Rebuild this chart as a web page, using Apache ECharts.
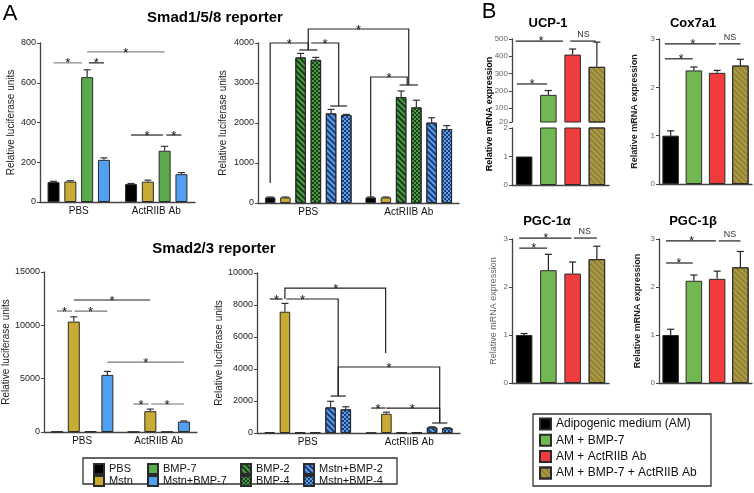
<!DOCTYPE html>
<html><head><meta charset="utf-8">
<script src="https://cdn.jsdelivr.net/npm/echarts@6.0.0/dist/echarts.min.js"></script>
<style>html,body{margin:0;padding:0;background:#fff}#c{width:754px;height:493px}</style>
</head><body><div id="c"></div>
<script>
// ---------------- DATA ----------------
const categoriesA = ['PBS', 'ActRIIB Ab'];
const groupsBasic = ['PBS', 'Mstn', 'BMP-7', 'Mstn+BMP-7'];
const groupsFull = ['PBS', 'Mstn', 'BMP-2', 'BMP-4', 'Mstn+BMP-2', 'Mstn+BMP-4'];

// Smad1/5/8 reporter (rows follow group order, columns = [PBS, ActRIIB Ab])
const smad158BasicMean = [[100, 90], [103, 102], [628, 258], [212, 140]];
const smad158BasicTop  = [[104, 93], [107, 110], [665, 280], [222, 148]];
const smad158FullMean  = [[140, 140], [140, 140], [3640, 2650], [3580, 2390], [2240, 2010], [2200, 1850]];
const smad158FullTop   = [[150, 150], [150, 150], [3740, 2800], [3640, 2570], [2340, 2130], [2215, 1935]];
// Smad2/3 reporter
const smad23BasicMean = [[40, 20], [10350, 1950], [60, 30], [5350, 980]];
const smad23BasicTop  = [[40, 20], [10800, 2150], [60, 30], [5680, 1040]];
const smad23FullMean  = [[50, 20], [7580, 1200], [40, 30], [50, 30], [1600, 350], [1480, 300]];
const smad23FullTop   = [[50, 20], [8100, 1300], [40, 30], [50, 30], [1980, 390], [1640, 330]];

// Panel B
const treatmentsB = ['Adipogenic medium (AM)', 'AM + BMP-7', 'AM + ActRIIB Ab', 'AM + BMP-7 + ActRIIB Ab'];
const ucp1Mean   = [1, 177, 410, 339];
const ucp1Top    = [1, 202, 442, 482];
const cox7a1Mean = [1.0, 2.35, 2.3, 2.45];
const cox7a1Top  = [1.1, 2.42, 2.35, 2.58];
const pgc1aMean  = [1.0, 2.35, 2.28, 2.58];
const pgc1aTop   = [1.03, 2.68, 2.52, 2.85];
const pgc1bMean  = [1.0, 2.13, 2.17, 2.41];
const pgc1bTop   = [1.12, 2.25, 2.33, 2.74];

// Significance annotations: points are [category, bar slot, value]
const sig158Basic = [
  {paths: [[[0, 0, 700], [0, 1.7, 700]]], label: [0, 0.85, 700], color: '#888'},
  {paths: [[[0, 2.1, 700], [0, 3, 700]]], label: [0, 2.55, 700], color: '#222'},
  {paths: [[[0, 2, 755], [1, 2, 755]]], label: [0.5, 2, 755], color: '#888'},
  {paths: [[[1, 0, 337], [1, 1.9, 337]]], label: [1, 0.95, 337], color: '#222'},
  {paths: [[[1, 2.1, 337], [1, 3, 337]]], label: [1, 2.55, 337], color: '#222'}
];
const sig158Full = [
  {paths: [[[0, 0, 500], [0, 0, 4000], [0, 2.5, 4000], [0, 2.5, 3825]], [[0, 1.9, 3825], [0, 3.1, 3825]]], label: [0, 1.25, 4000]},
  {paths: [[[0, 2.7, 4000], [0, 4.5, 4000], [0, 4.5, 2425]], [[0, 3.95, 2425], [0, 5.05, 2425]]], label: [0, 3.6, 4000]},
  {paths: [[[0, 2.5, 3825], [0, 2.5, 4350], [1, 2.5, 4350], [1, 2.5, 2950]], [[1, 1.9, 2950], [1, 3.1, 2950]]], label: [0.5, 2.5, 4350]},
  {paths: [[[1, 0, 150], [1, 0, 3150], [1, 2.4, 3150], [1, 2.4, 2950]]], label: [1, 1.2, 3150]}
];
const sig23Basic = [
  {paths: [[[0, 0, 11340], [0, 0.9, 11340]]], label: [0, 0.45, 11340], color: '#777'},
  {paths: [[[0, 1.05, 11340], [0, 3, 11340]]], label: [0, 2.0, 11340], color: '#777'},
  {paths: [[[0, 1, 12375], [1, 1, 12375]]], label: [0.5, 1, 12375], color: '#222'},
  {paths: [[[0, 3, 6560], [1, 3, 6560]]], label: [0.5, 3, 6560], color: '#777'},
  {paths: [[[1, 0, 2625], [1, 0.9, 2625]]], label: [1, 0.45, 2625], color: '#777'},
  {paths: [[[1, 1.05, 2625], [1, 3, 2625]]], label: [1, 2.0, 2625], color: '#777'}
];
const sig23Full = [
  {paths: [[[0, 0, 8375], [0, 0.85, 8375]]], label: [0, 0.45, 8375]},
  {paths: [[[0, 1, 8375], [0, 1, 9060], [1, 0.95, 9060], [1, 0.95, 5000]]], label: [0.5, 1, 9060]},
  {paths: [[[0, 1.1, 8375], [0, 4.5, 8375], [0, 4.5, 2310]], [[0, 4, 2310], [0, 5, 2310]]], label: [0, 2.15, 8375]},
  {paths: [[[0, 4.5, 2310], [0, 4.5, 4125], [1, 4.5, 4125], [1, 4.5, 625]], [[1, 4, 625], [1, 5, 625]]], label: [0.5, 4.5, 4125]},
  {paths: [[[1, 0, 1560], [1, 0.95, 1560]]], label: [1, 0.45, 1560]},
  {paths: [[[1, 1, 1560], [1, 4.5, 1560], [1, 4.5, 625]]], label: [1, 2.7, 1560]}
];
const sigUcp1 = [
  {paths: [[[-0.35, 0, 488], [1.6, 0, 488]]], label: [0.7, 0, 488]},
  {paths: [[[1.9, 0, 488], [2.95, 0, 488]]], label: [2.45, 0, 488], text: 'NS'},
  {paths: [[[-0.3, 0, 240], [0.95, 0, 240]]], label: [0.33, 0, 240]}
];
const sigCox7a1 = [
  {paths: [[[-0.25, 0, 2.9], [1.95, 0, 2.9]]], label: [0.95, 0, 2.9]},
  {paths: [[[2.07, 0, 2.9], [3.0, 0, 2.9]]], label: [2.55, 0, 2.9], text: 'NS'},
  {paths: [[[-0.25, 0, 2.59], [0.95, 0, 2.59]]], label: [0.45, 0, 2.59]}
];
const sigPgc1a = [
  {paths: [[[-0.2, 0, 3.02], [1.95, 0, 3.02]]], label: [0.9, 0, 3.02]},
  {paths: [[[2.05, 0, 3.02], [3.0, 0, 3.02]]], label: [2.5, 0, 3.02], text: 'NS'},
  {paths: [[[-0.2, 0, 2.81], [0.95, 0, 2.81]]], label: [0.4, 0, 2.81]}
];
const sigPgc1b = [
  {paths: [[[-0.2, 0, 2.96], [1.95, 0, 2.96]]], label: [0.9, 0, 2.96]},
  {paths: [[[2.07, 0, 2.96], [3.0, 0, 2.96]]], label: [2.55, 0, 2.96], text: 'NS'},
  {paths: [[[-0.2, 0, 2.5], [0.95, 0, 2.5]]], label: [0.35, 0, 2.5]}
];

// ---------------- STYLE ----------------
const FONT = 'Arial, "Liberation Sans", sans-serif';
function stripes(c) { return {symbol: 'rect', symbolSize: 1, dashArrayX: [1, 0], dashArrayY: [1.6, 2], rotation: Math.PI / 4, color: c}; }
function checks(c) { return {symbol: 'rect', symbolSize: 1, dashArrayX: [[2, 2], [0, 2, 2, 0]], dashArrayY: [2, 0], rotation: 0, color: c}; }
const BORDER = {borderColor: '#2a2a2a', borderWidth: 1};
const styleA = {
  'PBS': Object.assign({color: '#000'}, BORDER),
  'Mstn': Object.assign({color: '#c9ab33'}, BORDER),
  'BMP-7': Object.assign({color: '#5aab4c'}, BORDER),
  'Mstn+BMP-7': Object.assign({color: '#519ff0'}, BORDER),
  'BMP-2': Object.assign({color: '#4f9a47', decal: stripes('#143f14')}, BORDER),
  'BMP-4': Object.assign({color: '#4f9a47', decal: checks('#173f17')}, BORDER),
  'Mstn+BMP-2': Object.assign({color: '#5aa0ea', decal: stripes('#1d3c78')}, BORDER),
  'Mstn+BMP-4': Object.assign({color: '#5aa0ea', decal: checks('#1d3c78')}, BORDER)
};
const styleB = [
  Object.assign({color: '#000'}, BORDER),
  Object.assign({color: '#72b852'}, BORDER),
  Object.assign({color: '#f03c3c'}, BORDER),
  Object.assign({color: '#a3a04a', decal: stripes('rgba(150,105,35,0.65)')}, BORDER)
];

const grids = [
  {left: 40, top: 43, width: 155, height: 159},
  {left: 258, top: 43, width: 201, height: 160},
  {left: 41, top: 272, width: 156, height: 160},
  {left: 257, top: 273, width: 203, height: 160},
  {left: 512, top: 39, width: 97, height: 83},
  {left: 512, top: 128, width: 97, height: 57},
  {left: 659, top: 39, width: 93, height: 145},
  {left: 512, top: 239, width: 97, height: 144},
  {left: 659, top: 239, width: 93, height: 144}
];

const axisLineA = {lineStyle: {color: '#444', width: 1.3}};
const xAxes = grids.map((g, i) => {
  const isA = i < 4;
  return {
    gridIndex: i, type: 'category', data: isA ? categoriesA : treatmentsB,
    axisLine: i === 4 ? {show: false} : axisLineA,
    axisTick: {show: false},
    axisLabel: isA ? {fontSize: 10, color: '#111', margin: 4, fontFamily: FONT} : {show: false}
  };
});
function yAx(i, min, max, interval, extra) {
  return Object.assign({
    gridIndex: i, type: 'value', min, max, interval,
    splitLine: {show: false},
    axisLine: {show: true, lineStyle: {color: '#444', width: 1.3}},
    axisTick: {show: true, length: 3, lineStyle: {color: '#444'}},
    axisLabel: {fontSize: i < 4 ? 9 : 8, color: i < 4 ? '#222' : '#666', margin: 4, fontFamily: FONT, formatter: v => String(v)}
  }, extra || {});
}
const nameA = (gap) => ({name: 'Relative luciferase units', nameLocation: 'middle', nameGap: gap,
  nameTextStyle: {fontSize: 10, color: '#222', fontFamily: FONT}});
const nameB = (gap, bold) => ({name: 'Relative mRNA expression', nameLocation: 'middle', nameGap: gap,
  nameTextStyle: {fontSize: 9, color: bold ? '#222' : '#666', fontWeight: bold ? 'bold' : 'normal', fontFamily: FONT}});
const yAxes = [
  yAx(0, 0, 800, 200, nameA(24)),
  yAx(1, 0, 4000, 1000, nameA(30)),
  yAx(2, 0, 15000, 5000, nameA(28)),
  yAx(3, 0, 10000, 2000, nameA(28)),
  yAx(4, 20, 500, null),
  yAx(5, 0, 2, 1),
  yAx(6, 0, 3, 1, nameB(20, true)),
  yAx(7, 0, 3, 1, nameB(14, false)),
  yAx(8, 0, 3, 1, nameB(17, true))
];
yAxes[4].axisLabel.customValues = [20, 100, 200, 300, 400, 500];
yAxes[4].axisTick.customValues = [20, 100, 200, 300, 400, 500];
delete yAxes[4].interval;

// ---------------- SERIES BUILDERS ----------------
function errorSeries(grid, n, pitch, items, color) {
  return {
    type: 'custom', xAxisIndex: grid, yAxisIndex: grid, data: items, z: 3, silent: true, animation: false,
    renderItem(params, api) {
      const cat = api.value(0), slot = api.value(3);
      const m = api.value(1), t = api.value(2);
      if (!(t > m)) return null;
      const b = api.coord([cat, m]), tp = api.coord([cat, t]);
      const x = b[0] + (slot - (n - 1) / 2) * pitch;
      const st = {stroke: color, lineWidth: 1.2};
      return {type: 'group', children: [
        {type: 'line', shape: {x1: x, y1: b[1], x2: x, y2: tp[1]}, style: st},
        {type: 'line', shape: {x1: x - 3.5, y1: tp[1], x2: x + 3.5, y2: tp[1]}, style: st}
      ]};
    }
  };
}
function sigSeries(grid, n, pitch, defs, fs) {
  return {
    type: 'custom', xAxisIndex: grid, yAxisIndex: grid, data: defs.map((d, i) => [0, 0, i]), z: 5, silent: true, animation: false,
    renderItem(params, api) {
      const d = defs[params.dataIndex];
      const cw = api.size([1, 0])[0];
      const px = p => { const c = api.coord([0, p[2]]); return [c[0] + p[0] * cw + (p[1] - (n - 1) / 2) * pitch, c[1]]; };
      const col = d.color || '#222';
      const ch = d.paths.map(path => ({type: 'polyline', shape: {points: path.map(px)}, style: {stroke: col, lineWidth: 1.2, fill: null}}));
      const lp = px(d.label);
      const isNS = d.text === 'NS';
      ch.push({type: 'text', x: lp[0], y: lp[1] - (isNS ? 2 : -1),
        style: {text: d.text || '*', fontSize: isNS ? 9 : fs, fontFamily: FONT, fill: isNS ? '#333' : '#111',
          align: 'center', verticalAlign: isNS ? 'bottom' : 'middle', textAlign: 'center', textVerticalAlign: isNS ? 'bottom' : 'middle'}});
      return {type: 'group', children: ch};
    }
  };
}

const series = [];
function panelA(grid, names, mean, top, bw, gap, sig) {
  const pitch = bw * (1 + gap);
  const errItems = [];
  names.forEach((nm, i) => {
    series.push({type: 'bar', name: nm, xAxisIndex: grid, yAxisIndex: grid, data: mean[i],
      barWidth: bw, barGap: (gap * 100) + '%', itemStyle: styleA[nm], animation: false, emphasis: {disabled: true}});
    mean[i].forEach((v, c) => errItems.push([c, v, top[i][c], i]));
  });
  series.push(errorSeries(grid, names.length, pitch, errItems, '#333'));
  series.push(sigSeries(grid, names.length, pitch, sig, 13));
}
panelA(0, groupsBasic, smad158BasicMean, smad158BasicTop, 12, 0.4, sig158Basic);
panelA(1, groupsFull, smad158FullMean, smad158FullTop, 10.5, 0.45, sig158Full);
panelA(2, groupsBasic, smad23BasicMean, smad23BasicTop, 12, 0.4, sig23Basic);
panelA(3, groupsFull, smad23FullMean, smad23FullTop, 10.5, 0.45, sig23Full);

function panelB(grids_, mean, top, sig) {
  grids_.forEach((grid, gi) => {
    treatmentsB.forEach((nm, i) => {
      series.push({type: 'bar', name: nm, xAxisIndex: grid, yAxisIndex: grid,
        data: treatmentsB.map((_, j) => j === i ? mean[i] : '-'),
        barWidth: 16.5, barGap: '-100%', itemStyle: styleB[i], animation: false, emphasis: {disabled: true}});
    });
  });
  const g = grids_[0];
  series.push(errorSeries(g, 1, 0, mean.map((v, i) => [i, v, top[i], 0]), '#222'));
  series.push(sigSeries(g, 1, 0, sig, 12));
}
panelB([4, 5], ucp1Mean, ucp1Top, sigUcp1);
panelB([6], cox7a1Mean, cox7a1Top, sigCox7a1);
panelB([7], pgc1aMean, pgc1aTop, sigPgc1a);
panelB([8], pgc1bMean, pgc1bTop, sigPgc1b);

// ---------------- LEGENDS ----------------
const legA = (left, names) => ({data: names, orient: 'vertical', left, top: 463, padding: 0, itemGap: 0,
  itemWidth: 10, itemHeight: 10, icon: 'rect', selectedMode: false,
  textStyle: {fontSize: 11, lineHeight: 12, color: '#111', fontFamily: FONT}});
const legends = [
  legA(93, ['PBS', 'Mstn']),
  legA(147, ['BMP-7', 'Mstn+BMP-7']),
  legA(240, ['BMP-2', 'BMP-4']),
  legA(303, ['Mstn+BMP-2', 'Mstn+BMP-4']),
  {data: treatmentsB, orient: 'vertical', left: 539, top: 417, padding: 0, itemGap: 2.3,
    itemWidth: 11, itemHeight: 11, icon: 'rect', selectedMode: false,
    textStyle: {fontSize: 12, lineHeight: 14, color: '#111', fontFamily: FONT}}
];

// ---------------- TEXT / FRAMES ----------------
const txt = (text, x, y, size, weight, extra) => Object.assign({type: 'text', x, y, silent: true,
  style: {text, fontSize: size, fontWeight: weight || 'normal', fontFamily: FONT, fill: '#000',
    align: 'center', verticalAlign: 'middle', textAlign: 'center', textVerticalAlign: 'middle'}}, extra || {});
const graphic = [
  txt('A', 10, 14, 22),
  txt('B', 489, 12, 22),
  txt('Smad1/5/8 reporter', 215, 18, 15, 'bold'),
  txt('Smad2/3 reporter', 214, 249, 15, 'bold'),
  txt('UCP-1', 548, 23, 13, 'bold'),
  txt('Cox7a1', 693, 23, 13, 'bold'),
  txt('PGC-1α', 547, 221, 13, 'bold'),
  txt('PGC-1β', 693, 221, 13, 'bold'),
  txt('Relative mRNA expression', 490, 114, 9, 'bold', {rotation: Math.PI / 2}),
  {type: 'rect', shape: {x: 83, y: 458, width: 314, height: 26}, style: {fill: null, stroke: '#333', lineWidth: 1.3}, silent: true},
  {type: 'rect', shape: {x: 533, y: 414, width: 178, height: 72}, style: {fill: null, stroke: '#333', lineWidth: 1.3}, silent: true}
];

const chart = echarts.init(document.getElementById('c'), null, {renderer: 'canvas'});
chart.setOption({
  animation: false,
  backgroundColor: '#fff',
  grid: grids.map(g => Object.assign({containLabel: false}, g)),
  xAxis: xAxes,
  yAxis: yAxes,
  legend: legends,
  series,
  graphic
});
</script></body></html>
